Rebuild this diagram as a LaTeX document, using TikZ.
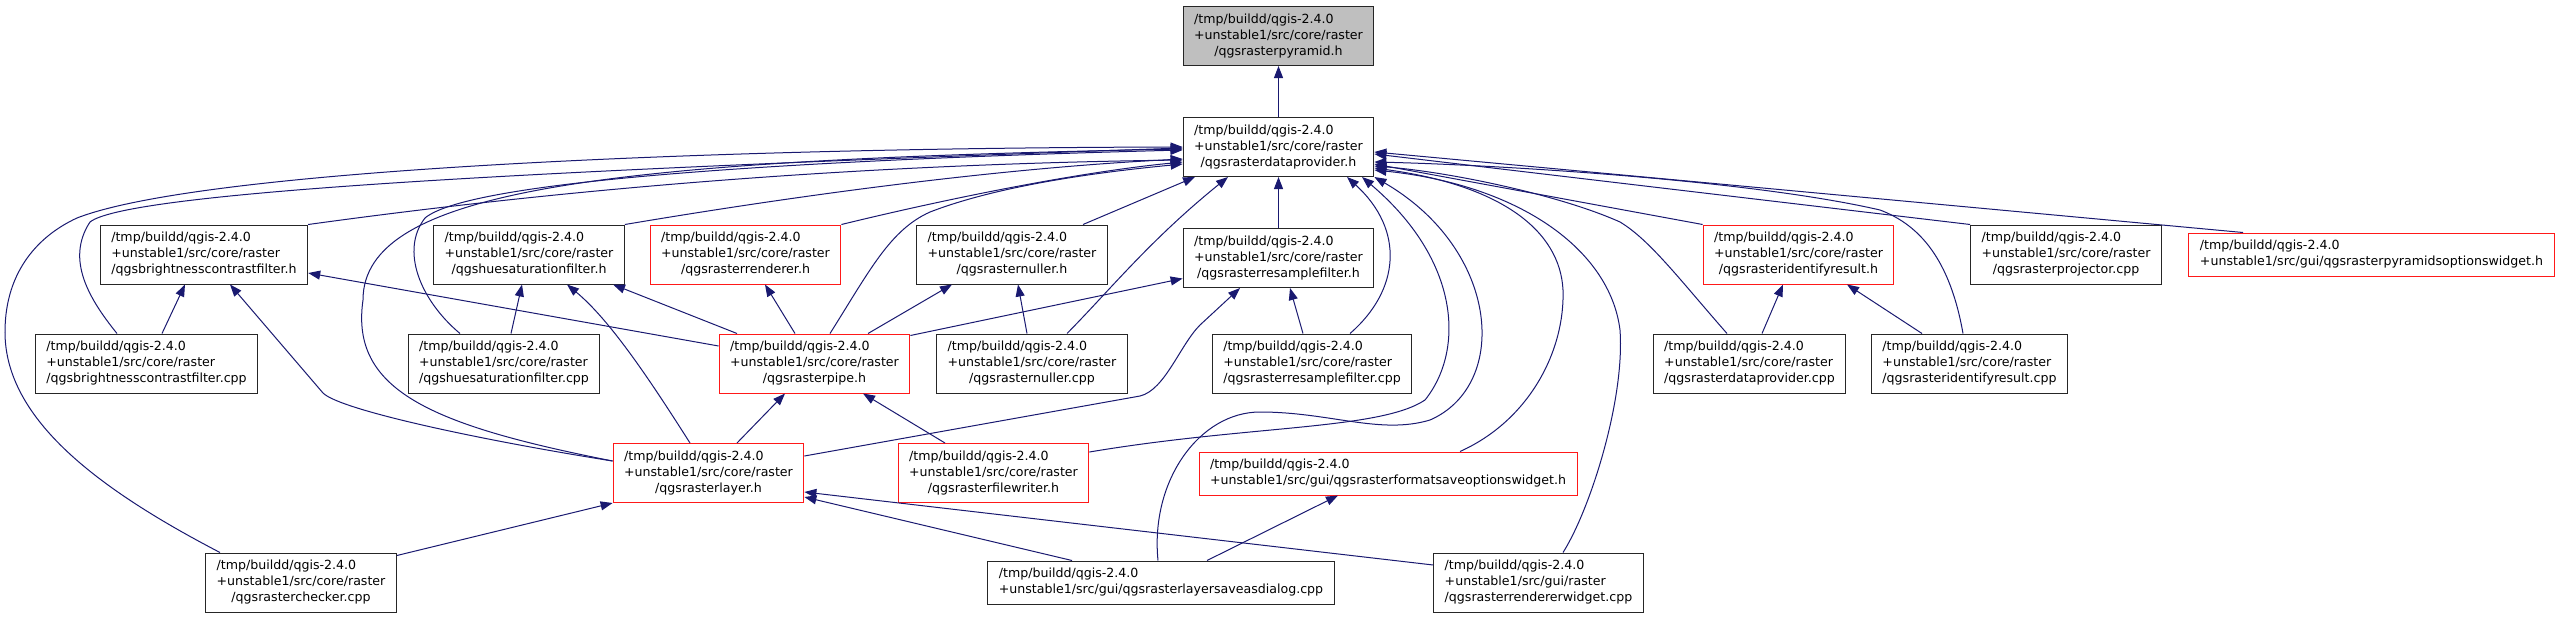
\documentclass[tikz,border=0pt]{standalone}
\usepackage{fontspec}
\setmainfont{DejaVu Sans}
\usepackage{tikz}
\usetikzlibrary{arrows.meta, positioning}
\definecolor{edgeblue}{HTML}{191970}
\newcommand{\fpath}[3]{\begin{tabular}{@{}l@{}}#1\\#2\\\multicolumn{1}{@{}c@{}}{#3}\end{tabular}}
\newcommand{\gpath}[2]{\begin{tabular}{@{}l@{}}#1\\#2\end{tabular}}
\newcommand{\tmpq}{/tmp/buildd/qgis-2.4.0}
\newcommand{\rcore}[1]{\fpath{\tmpq}{+unstable1/src/core/raster}{#1}}
\tikzset{
    fil/.style={draw=black!85, fill=white, line width=1pt, inner xsep=11pt, inner ysep=5.5pt,
                font=\fontsize{12.6}{16}\selectfont},
    filr/.style={fil, draw=red!90!white},
    cur/.style={fil, fill=black!25},
    inc/.style={-{Triangle[length=12pt,width=9pt]}, edgeblue, line width=1pt},
}
\begin{document}
\begin{tikzpicture}[x=1pt, y=-1pt]
    \useasboundingbox (0,0) rectangle (2556,619);
    \node[cur] (pyr) at (1278.5,36) {\rcore{/qgsrasterpyramid.h}};
    \node[fil, below=51pt of pyr] (dp) {\rcore{/qgsrasterdataprovider.h}};
    \node[fil] (bcfh) at (204,254.5) {\rcore{/qgsbrightnesscontrastfilter.h}};
    \node[fil] (hsfh) at (529,254.5) {\rcore{/qgshuesaturationfilter.h}};
    \node[filr] (rendh) at (745.5,254.5) {\rcore{/qgsrasterrenderer.h}};
    \node[fil] (nullh) at (1012,254.5) {\rcore{/qgsrasternuller.h}};
    \node[fil, below=51pt of dp] (rsfh) {\rcore{/qgsrasterresamplefilter.h}};
    \node[filr] (irh) at (1798.5,254.5) {\rcore{/qgsrasteridentifyresult.h}};
    \node[fil] (proj) at (2066,254.5) {\rcore{/qgsrasterprojector.cpp}};
    \node[filr] (pyrw) at (2371.5,254.5) {\gpath{\tmpq}{+unstable1/src/gui/qgsrasterpyramidsoptionswidget.h}};
    \node[fil] (bcfc) at (146.5,363.5) {\rcore{/qgsbrightnesscontrastfilter.cpp}};
    \node[fil] (hsfc) at (504,363.5) {\rcore{/qgshuesaturationfilter.cpp}};
    \node[filr] (pipe) at (814.5,363.5) {\rcore{/qgsrasterpipe.h}};
    \node[fil] (nullc) at (1032,363.5) {\rcore{/qgsrasternuller.cpp}};
    \node[fil] (rsfc) at (1312,363.5) {\rcore{/qgsrasterresamplefilter.cpp}};
    \node[fil] (dpc) at (1749.5,363.5) {\rcore{/qgsrasterdataprovider.cpp}};
    \node[fil] (irc) at (1969.5,363.5) {\rcore{/qgsrasteridentifyresult.cpp}};
    \node[filr] (layer) at (708.5,473) {\rcore{/qgsrasterlayer.h}};
    \node[filr] (fw) at (993.5,473) {\rcore{/qgsrasterfilewriter.h}};
    \node[filr] (fmt) at (1388,473.5) {\gpath{\tmpq}{+unstable1/src/gui/qgsrasterformatsaveoptionswidget.h}};
    \node[fil] (chk) at (301,582.5) {\rcore{/qgsrasterchecker.cpp}};
    \node[fil] (lsad) at (1161,582.5) {\gpath{\tmpq}{+unstable1/src/gui/qgsrasterlayersaveasdialog.cpp}};
    \node[fil] (rw) at (1538.5,582.5) {\fpath{\tmpq}{+unstable1/src/gui/raster}{/qgsrasterrendererwidget.cpp}};

    \draw[inc] (dp) -- (pyr);
    \draw[inc] ([xshift=-81pt]chk.north) .. controls (100,490) and (5,420) .. (5,332)
        .. controls (5,270) and (40,235) .. (77,218) .. controls (200,170) and (700,148) .. (dp.west);
    \draw[inc] ([xshift=-29.5pt]bcfc.north) .. controls (90,300) and (65,260) .. (90,222)
        .. controls (130,190) and (600,168) .. ([yshift=-1pt]dp.west);
    \draw[inc] ([yshift=12pt]layer.west) .. controls (430,425) and (350,390) .. (363,300)
        .. controls (363,190) and (600,160) .. ([yshift=-2pt]dp.west);
    \draw[inc] ([xshift=-44pt]hsfc.north) .. controls (420,300) and (400,250) .. (425,218)
        .. controls (470,180) and (800,160) .. ([yshift=-3pt]dp.west);
    \draw[inc] (bcfh.north east) .. controls (500,198) and (800,165) .. ([yshift=-13pt]dp.west);
    \draw[inc] (hsfh.north east) .. controls (800,195) and (1000,168) .. ([yshift=-12pt]dp.west);
    \draw[inc] (rendh.north east) .. controls (950,198) and (1080,172) .. ([yshift=-15pt]dp.west);
    \draw[inc] ([xshift=15.5pt]pipe.north) .. controls (870,270) and (890,230) .. (930,212)
        .. controls (1000,185) and (1100,172) .. ([yshift=-17pt]dp.west);
    \draw[inc] ([xshift=71pt]nullh.north) -- ([xshift=-83.5pt]dp.south);
    \draw[inc] ([xshift=35pt]nullc.north) .. controls (1110,290) and (1150,240) .. ([xshift=-50.5pt]dp.south);
    \draw[inc] (rsfh) -- (dp);
    \draw[inc] ([xshift=38pt]rsfc.north) .. controls (1400,290) and (1405,230) .. ([xshift=68.5pt]dp.south);
    \draw[inc] ([yshift=21pt]fw.east) .. controls (1250,425) and (1380,430) .. (1425,400)
        .. controls (1465,350) and (1460,260) .. ([xshift=83.5pt]dp.south);
    \draw[inc] ([xshift=-3pt]lsad.north) .. controls (1150,480) and (1200,412) .. (1260,412)
        .. controls (1330,412) and (1380,435) .. (1430,420) .. controls (1510,385) and (1500,250) .. (dp.south east);
    \draw[inc] ([xshift=72pt]fmt.north) .. controls (1530,420) and (1565,350) .. (1563,290)
        .. controls (1560,230) and (1500,185) .. ([yshift=-21pt]dp.east);
    \draw[inc] ([xshift=24.5pt]rw.north) .. controls (1590,510) and (1625,400) .. (1620,330)
        .. controls (1610,250) and (1520,185) .. ([yshift=-23pt]dp.east);
    \draw[inc] ([xshift=-22.5pt]dpc.north) .. controls (1680,280) and (1650,240) .. (1620,222)
        .. controls (1560,195) and (1450,172) .. ([yshift=-19pt]dp.east);
    \draw[inc] ([xshift=-6.5pt]irc.north) .. controls (1950,260) and (1920,225) .. (1880,210)
        .. controls (1750,180) and (1500,165) .. ([yshift=-15pt]dp.east);
    \draw[inc] (irh.north west) -- ([yshift=-17pt]dp.east);
    \draw[inc] (proj.north west) -- ([yshift=-7pt]dp.east);
    \draw[inc] ([xshift=-128.5pt]pyrw.north) -- ([yshift=-5pt]dp.east);

    \draw[inc] ([xshift=15.5pt]bcfc.north) -- ([xshift=-19pt]bcfh.south);
    \draw[inc] ([yshift=12pt]layer.west) .. controls (480,440) and (340,410) .. (323,393) -- ([xshift=26pt]bcfh.south);
    \draw[inc] ([yshift=17.5pt]pipe.west) -- ([yshift=-18.5pt]bcfh.east);
    \draw[inc] ([xshift=7pt]hsfc.north) -- ([xshift=-7pt]hsfh.south);
    \draw[inc] ([xshift=-18.5pt]layer.north) .. controls (650,380) and (610,320) .. ([xshift=38pt]hsfh.south);
    \draw[inc] ([xshift=-77.5pt]pipe.north) -- ([xshift=84pt]hsfh.south);
    \draw[inc] ([xshift=-19.5pt]pipe.north) -- ([xshift=19.5pt]rendh.south);
    \draw[inc] ([xshift=53.5pt]pipe.north) -- ([xshift=-60pt]nullh.south);
    \draw[inc] ([xshift=-5pt]nullc.north) -- ([xshift=6pt]nullh.south);
    \draw[inc] ([yshift=-2pt]pipe.north east) -- ([yshift=-20.5pt]rsfh.west);
    \draw[inc] ([yshift=17pt]layer.east) -- (1140,396) .. controls (1165,390) and (1180,345) .. (1200,325)
        -- ([xshift=-38.5pt]rsfh.south);
    \draw[inc] ([xshift=-9pt]rsfc.north) -- ([xshift=11.5pt]rsfh.south);
    \draw[inc] ([xshift=28.5pt]layer.north) -- ([xshift=-29.5pt]pipe.south);
    \draw[inc] ([xshift=-48.5pt]fw.north) -- ([xshift=48.5pt]pipe.south);
    \draw[inc] ([yshift=-3pt]chk.north east) -- (layer.south west);
    \draw[inc] ([xshift=-89pt]lsad.north) -- ([yshift=-24pt]layer.east);
    \draw[inc] ([yshift=17.5pt]rw.west) -- ([yshift=-19pt]layer.east);
    \draw[inc] ([xshift=46pt]lsad.north) -- ([xshift=-50pt]fmt.south);
    \draw[inc] ([xshift=12.5pt]dpc.north) -- ([xshift=-15.5pt]irh.south);
    \draw[inc] ([xshift=-47.5pt]irc.north) -- ([xshift=48.5pt]irh.south);
\end{tikzpicture}
\end{document}
